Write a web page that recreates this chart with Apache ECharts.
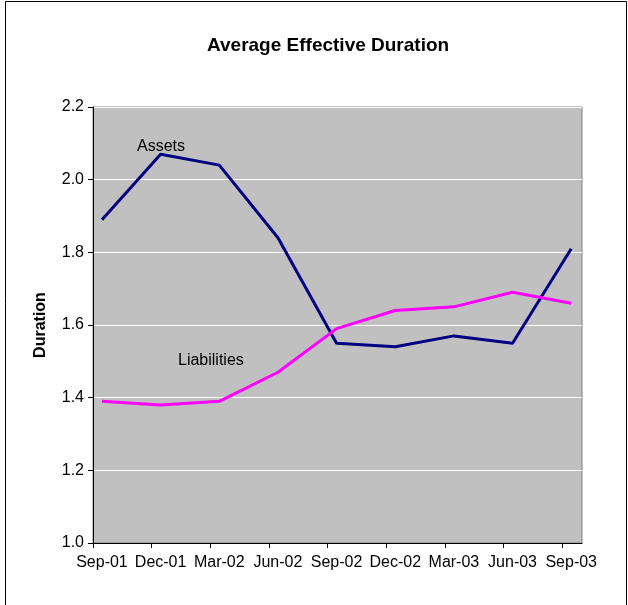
<!DOCTYPE html>
<html>
<head>
<meta charset="utf-8">
<script src="https://cdn.jsdelivr.net/npm/echarts@6/dist/echarts.min.js"></script>
<style>
  html, body { margin: 0; padding: 0; background: #fff; }
  #chart { width: 628px; height: 605px; }
</style>
</head>
<body>
<div id="chart"></div>
<script>
// quarter labels
const quarters = ['Sep-01', 'Dec-01', 'Mar-02', 'Jun-02', 'Sep-02', 'Dec-02', 'Mar-03', 'Jun-03', 'Sep-03']
const assets = [1.89, 2.07, 2.04, 1.84, 1.55, 1.54, 1.57, 1.55, 1.81]
const liabilities = [1.39, 1.38, 1.39, 1.47, 1.59, 1.64, 1.65, 1.69, 1.66]
const yTicks = [1.0, 1.2, 1.4, 1.6, 1.8, 2.0, 2.2]

// points sit a bit after the quarter tick (date axis in the original)
const tickShift = 0.153
const xMin = -tickShift
const xMax = quarters.length - 1 + 0.184

const font = 'Liberation Sans, Arial, sans-serif'

const toPairs = arr => arr.map((v, i) => [i, v])

const chart = echarts.init(document.getElementById('chart'))
chart.setOption({
  animation: false,
  backgroundColor: '#ffffff',
  title: {
    text: 'Average Effective Duration',
    left: 202,
    top: 31,
    textStyle: { fontFamily: font, fontSize: 19, fontWeight: 'bold', color: '#000' }
  },
  graphic: [
    {
      type: 'rect',
      shape: { x: 5.5, y: 1.5, width: 621, height: 620 },
      style: { fill: null, stroke: '#000', lineWidth: 1 },
      silent: true
    },
    {
      type: 'text', left: 137, top: 139,
      style: { text: 'Assets', font: '16px ' + font, fill: '#000' }
    },
    {
      type: 'text', left: 178, top: 353,
      style: { text: 'Liabilities', font: '16px ' + font, fill: '#000' }
    }
  ],
  grid: {
    left: 93, right: 46, top: 107, bottom: 62,
    show: true,
    backgroundColor: '#C0C0C0',
    borderColor: '#808080',
    borderWidth: 1
  },
  xAxis: {
    type: 'value',
    min: xMin,
    max: xMax,
    splitLine: { show: false },
    axisLine: { onZero: false, lineStyle: { color: '#000', width: 1 } },
    axisTick: {
      length: 5,
      lineStyle: { color: '#000' },
      customValues: quarters.map((q, i) => i - tickShift)
    },
    axisLabel: {
      customValues: quarters.map((q, i) => i),
      formatter: v => quarters[Math.round(v)],
      fontFamily: font,
      fontSize: 16,
      color: '#000',
      margin: 12
    }
  },
  yAxis: {
    type: 'value',
    min: 1.0,
    max: 2.2,
    interval: 0.2,
    name: 'Duration',
    nameLocation: 'middle',
    nameGap: 44,
    nameTextStyle: { fontFamily: font, fontSize: 16, fontWeight: 'bold', color: '#000' },
    axisLine: { show: true, onZero: false, lineStyle: { color: '#000', width: 1 } },
    axisTick: { show: true, length: 5, lineStyle: { color: '#000' } },
    axisLabel: {
      customValues: yTicks,
      formatter: v => v.toFixed(1),
      fontFamily: font,
      fontSize: 16,
      color: '#000',
      margin: 9
    },
    splitLine: { lineStyle: { color: '#ffffff', width: 1 } }
  },
  series: [
    {
      name: 'Assets',
      type: 'line',
      data: toPairs(assets),
      showSymbol: false,
      lineStyle: { color: '#000080', width: 3 },
      itemStyle: { color: '#000080' }
    },
    {
      name: 'Liabilities',
      type: 'line',
      data: toPairs(liabilities),
      showSymbol: false,
      lineStyle: { color: '#FF00FF', width: 3 },
      itemStyle: { color: '#FF00FF' }
    }
  ]
})
</script>
</body>
</html>
